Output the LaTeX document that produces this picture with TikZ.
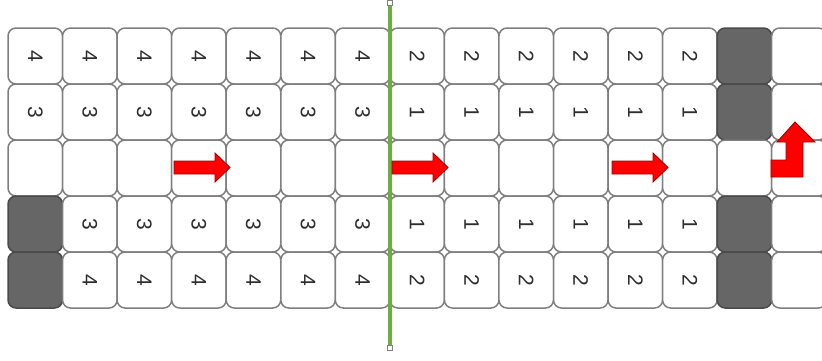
\documentclass[tikz,border=0pt]{standalone}
\usepackage{fontspec}
\setmainfont{Liberation Sans}
\definecolor{cellborder}{HTML}{7F7F7F}
\definecolor{darkfill}{HTML}{666666}
\definecolor{darkborder}{HTML}{4A4A4A}
\definecolor{digit}{HTML}{2E2E2E}
\definecolor{arrowred}{HTML}{FF0000}
\definecolor{arrowedge}{HTML}{A00000}
\definecolor{divider}{HTML}{6AAE3E}
\tikzset{
  cell/.style={draw=cellborder, line width=1.5pt, fill=white, rounded corners=8pt,
    minimum width=54.55pt, minimum height=56pt, inner sep=0pt, text=digit,
    font=\fontsize{21}{21}\selectfont},
  darkcell/.style={cell, fill=darkfill, draw=darkborder},
  blockarrow/.style={fill=arrowred, draw=arrowedge, line width=0.9pt, line join=miter},
  handle/.style={draw=cellborder, fill=white, line width=0.8pt, minimum size=5.5pt, inner sep=0pt}
}
\def\markdark{d}
\def\markblank{b}
\newcommand\cellrow[2]{%
  \foreach \v [count=\c] in {#2} {
    \pgfmathsetmacro{\cx}{8+(\c-0.5)*54.55}
    \pgfmathsetmacro{\cy}{28+(#1-0.5)*56}
    \ifx\v\markdark
      \node[darkcell] (c-#1-\c) at (\cx,\cy) {};
    \else\ifx\v\markblank
      \node[cell] (c-#1-\c) at (\cx,\cy) {};
    \else
      \node[cell] (c-#1-\c) at (\cx,\cy) {\rotatebox{-90}{\v}};
    \fi\fi
  }%
}
\begin{document}
\begin{tikzpicture}[x=1pt,y=-1pt]
\useasboundingbox (0,0) rectangle (822,360);
\cellrow{1}{4,4,4,4,4,4,4,2,2,2,2,2,2,d,b}
\cellrow{2}{3,3,3,3,3,3,3,1,1,1,1,1,1,d,b}
\cellrow{3}{b,b,b,b,b,b,b,b,b,b,b,b,b,b,b}
\cellrow{4}{d,3,3,3,3,3,3,1,1,1,1,1,1,d,b}
\cellrow{5}{d,4,4,4,4,4,4,2,2,2,2,2,2,d,b}
% green divider
\coordinate (gtop) at (390,3);
\coordinate (gbot) at (390,348);
\draw[divider, line width=3.5pt] (gtop) -- (gbot);
\node[handle] (htop) at (gtop) {};
\node[handle] (hbot) at (gbot) {};
% block arrows
\foreach \x in {174,392,612}{
  \draw[blockarrow] (\x,161) -- (\x+41,161) -- (\x+41,153) -- (\x+56,167.5)
    -- (\x+41,182) -- (\x+41,174) -- (\x,174) -- cycle;
}
% bent up arrow
\draw[blockarrow] (771,160) -- (786,160) -- (786,142) -- (777,142) -- (795,122)
  -- (815,142) -- (803,142) -- (803,177) -- (771,177) -- cycle;
\end{tikzpicture}
\end{document}
